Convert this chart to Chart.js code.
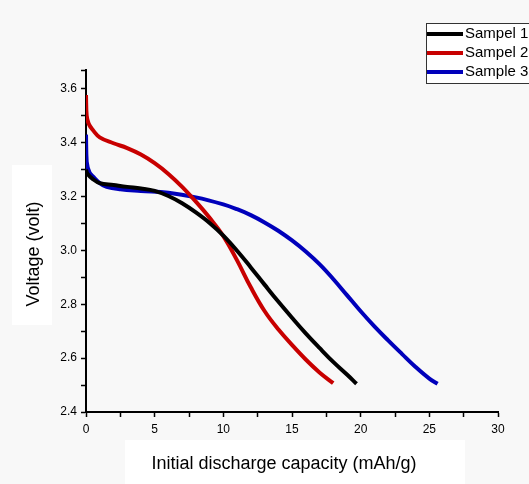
<!DOCTYPE html>
<html>
<head>
<meta charset="utf-8">
<script src="https://cdn.jsdelivr.net/npm/chart.js@4/dist/chart.umd.min.js"></script>
<style>
  html, body { margin: 0; padding: 0; background: #f8f8f8; }
  #wrap { width: 529px; height: 484px; position: relative; }
</style>
</head>
<body>
<div id="wrap"><canvas id="chart" width="529" height="484"></canvas></div>
<script>
// Data (capacity mAh/g, voltage V)
const seriesLabels = ['Sampel 1', 'Sampel 2', 'Sample 3'];
const seriesColors = ['#000000', '#c80000', '#0000bb'];

const sample1X = [0, 0.1, 0.5, 1, 2, 3, 4, 5, 6, 7, 8, 9, 10, 11, 12, 13, 14, 15, 16, 17, 18, 19, 19.7];
const sample1Y = [3.30, 3.285, 3.265, 3.25, 3.243, 3.236, 3.23, 3.221, 3.202, 3.175, 3.141, 3.102, 3.055, 2.999, 2.937, 2.873, 2.81, 2.75, 2.692, 2.638, 2.586, 2.539, 2.505];

const sample2X = [0, 0.05, 0.2, 0.5, 1, 2, 3, 4, 5, 6, 7, 8, 9, 10, 11, 12, 13, 14, 15, 16, 17, 18];
const sample2Y = [3.577, 3.50, 3.47, 3.447, 3.42, 3.398, 3.38, 3.356, 3.324, 3.284, 3.236, 3.181, 3.121, 3.053, 2.963, 2.863, 2.775, 2.707, 2.649, 2.595, 2.547, 2.507];

const sample3X = [0, 0.05, 0.25, 0.5, 1, 1.5, 2.5, 4, 6, 8, 10, 11, 12, 13, 14, 15, 16, 17, 18, 19, 20, 21, 22, 23, 24, 25, 25.6];
const sample3Y = [3.43, 3.33, 3.29, 3.275, 3.25, 3.236, 3.227, 3.221, 3.214, 3.197, 3.171, 3.153, 3.131, 3.104, 3.073, 3.037, 2.996, 2.949, 2.894, 2.834, 2.774, 2.718, 2.666, 2.616, 2.567, 2.524, 2.505];

const xTicks = [0, 5, 10, 15, 20, 25, 30];
const yTicks = [2.4, 2.6, 2.8, 3.0, 3.2, 3.4, 3.6];

function toPoints(xs, ys) {
  return xs.map((x, i) => ({ x: x, y: ys[i] }));
}

const allX = [sample1X, sample2X, sample3X];
const allY = [sample1Y, sample2Y, sample3Y];

const datasets = seriesLabels.map((label, i) => ({
  label: label,
  data: toPoints(allX[i], allY[i]),
  borderColor: seriesColors[i],
  backgroundColor: seriesColors[i],
  borderWidth: 4,
  pointRadius: 0,
  tension: 0.4,
  fill: false
}));

const FONT = '"Liberation Sans", Arial, sans-serif';

// page background, white boxes behind the titles, legend
const decorPlugin = {
  id: 'decor',
  beforeDraw(chart) {
    const ctx = chart.ctx;
    ctx.save();
    ctx.fillStyle = '#f8f8f8';
    ctx.fillRect(0, 0, chart.width, chart.height);
    ctx.fillStyle = '#ffffff';
    ctx.fillRect(125, 440, 340, 44);
    ctx.fillRect(12, 165, 40, 160);
    ctx.restore();
  },
  afterDraw(chart) {
    const ctx = chart.ctx;
    ctx.save();
    // axis titles
    ctx.fillStyle = '#000';
    ctx.font = '18px ' + FONT;
    ctx.textAlign = 'center';
    ctx.textBaseline = 'middle';
    ctx.fillText('Initial discharge capacity (mAh/g)', 284, 464);
    ctx.translate(34, 254);
    ctx.rotate(-Math.PI / 2);
    ctx.fillText('Voltage (volt)', 0, 0);
    ctx.restore();

    // legend
    ctx.save();
    ctx.fillStyle = '#ffffff';
    ctx.fillRect(426, 23, 120, 61);
    ctx.strokeStyle = '#333';
    ctx.lineWidth = 1;
    ctx.strokeRect(426.5, 23.5, 120, 60);
    ctx.font = '15px ' + FONT;
    ctx.textAlign = 'left';
    ctx.textBaseline = 'middle';
    chart.data.datasets.forEach((ds, i) => {
      const y = 34 + i * 19;
      ctx.strokeStyle = ds.borderColor;
      ctx.lineWidth = 4;
      ctx.beginPath();
      ctx.moveTo(427, y);
      ctx.lineTo(463, y);
      ctx.stroke();
      ctx.fillStyle = '#000';
      ctx.fillText(ds.label, 465, y);
    });
    ctx.restore();
  }
};

new Chart(document.getElementById('chart'), {
  type: 'line',
  data: { datasets: datasets },
  options: {
    responsive: false,
    animation: false,
    layout: { padding: { left: 0, right: 31, top: 70, bottom: 0 } },
    plugins: { legend: { display: false }, tooltip: { enabled: false } },
    scales: {
      x: {
        type: 'linear',
        min: 0,
        max: 30,
        afterFit: s => { s.height = 72; },
        border: { color: '#000', width: 2 },
        grid: { drawOnChartArea: false, tickLength: 5, tickColor: '#000', tickWidth: 1.5 },
        ticks: {
          stepSize: 2.5,
          color: '#000',
          padding: 5,
          font: { family: FONT, size: 12 },
          autoSkip: false,
          maxRotation: 0,
          callback: v => xTicks.includes(v) ? String(v) : ''
        }
      },
      y: {
        min: 2.4,
        max: 3.67,
        afterFit: s => { s.width = 86; },
        border: { color: '#000', width: 2 },
        grid: { drawOnChartArea: false, tickLength: 5, tickColor: '#000', tickWidth: 1.5 },
        ticks: {
          stepSize: 0.1,
          color: '#000',
          padding: 4,
          font: { family: FONT, size: 12 },
          autoSkip: false,
          callback: v => {
            const r = Math.round(v * 10) / 10;
            return yTicks.some(t => Math.abs(t - r) < 1e-6) && Math.abs(v - r) < 1e-6 ? r.toFixed(1) : '';
          }
        }
      }
    }
  },
  plugins: [decorPlugin]
});
</script>
</body>
</html>
